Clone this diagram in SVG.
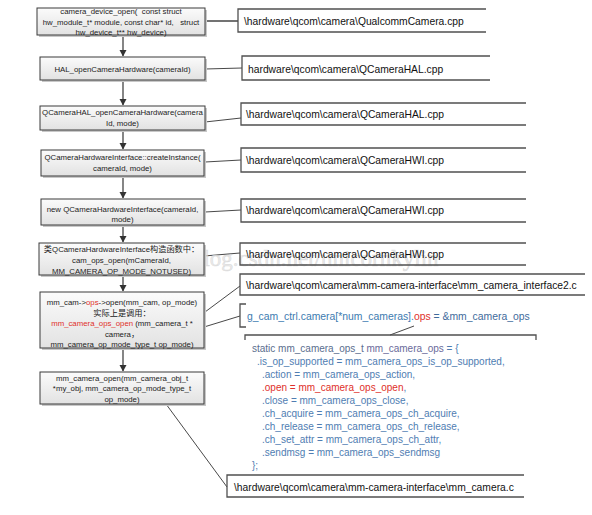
<svg xmlns="http://www.w3.org/2000/svg" width="592" height="515" viewBox="0 0 592 515">
<style>
.bx{fill:url(#g);stroke:#3a3a3a;stroke-width:1}
.sh{fill:#c8c8c8}
.lt{font-family:"Liberation Sans",Arial,"Noto Sans CJK SC",sans-serif;font-size:7.8px;fill:#222;text-anchor:middle;white-space:pre}
.cn{font-family:"Noto Sans CJK SC","Liberation Serif",serif;font-size:8.2px}
.rb{fill:none;stroke:#505050;stroke-width:1.3}
.rt{font-family:"Liberation Sans",Arial,sans-serif;font-size:10.3px;fill:#111}
.st{font-family:"Liberation Sans",Arial,sans-serif;font-size:10px;fill:#4f7db2}
.red{fill:#e0302a}
.cl{fill:none;stroke:#333;stroke-width:0.9}
.ar{fill:none;stroke:#444;stroke-width:1.3}
.wm{font-family:"Liberation Serif",serif;font-size:23px;fill:#e4e4e4;fill-opacity:0.75;stroke:#c8c8c8;stroke-width:0.5;stroke-opacity:0.6}
</style>
<defs>
<linearGradient id="g" x1="0" y1="0" x2="0" y2="1"><stop offset="0" stop-color="#fbfbfb"/><stop offset="1" stop-color="#e2e2e2"/></linearGradient>
<marker id="ah" markerWidth="8" markerHeight="8" refX="6" refY="4" orient="auto" markerUnits="userSpaceOnUse"><path d="M0,0.5 L6.5,4 L0,7.5 Z" fill="#333"/></marker>
</defs>
<rect width="592" height="515" fill="#fff"/>

<g id="connectors">
<line class="ar" x1="123" y1="35" x2="123" y2="56" marker-end="url(#ah)"/>
<line class="ar" x1="123" y1="80" x2="123" y2="105" marker-end="url(#ah)"/>
<line class="ar" x1="123" y1="130" x2="123" y2="149" marker-end="url(#ah)"/>
<line class="ar" x1="123" y1="176" x2="123" y2="198" marker-end="url(#ah)"/>
<line class="ar" x1="123" y1="225" x2="123" y2="242" marker-end="url(#ah)"/>
<line class="ar" x1="123" y1="275" x2="123" y2="291" marker-end="url(#ah)"/>
<line class="ar" x1="123" y1="348" x2="123" y2="371" marker-end="url(#ah)"/>
<line class="ar" x1="205" y1="21" x2="238" y2="21"/>
<line class="cl" x1="205" y1="69" x2="242" y2="68"/>
<line class="cl" x1="205" y1="122" x2="241" y2="118"/>
<line class="cl" x1="205" y1="162" x2="241" y2="160"/>
<line class="cl" x1="205" y1="212" x2="241" y2="210"/>
<line class="cl" x1="204" y1="256" x2="240" y2="253"/>
<line class="cl" x1="205" y1="312" x2="240" y2="286"/>
<line class="cl" x1="204" y1="327" x2="240" y2="316"/>
<line class="cl" x1="414" y1="326" x2="390" y2="335"/>
<line class="cl" x1="166" y1="404" x2="227" y2="487"/>
</g>

<text class="wm" x="137" y="266">http://blog.csdn.net/unicornkylin</text>

<g id="n1">
<rect class="sh" x="39" y="10" width="168" height="27"/>
<rect class="bx" x="37" y="8" width="168" height="27"/>
<text class="lt" x="121" y="14">camera_device_open(  const struct</text>
<text class="lt" x="121" y="24.5">hw_module_t* module, const char* id,   struct</text>
<text class="lt" x="121" y="35">hw_device_t** hw_device)</text>
</g>
<g id="n2">
<rect class="sh" x="42" y="59" width="165" height="23"/>
<rect class="bx" x="40" y="57" width="165" height="23"/>
<text class="lt" x="122.5" y="72">HAL_openCameraHardware(cameraId)</text>
</g>
<g id="n3">
<rect class="sh" x="42" y="108" width="165" height="24"/>
<rect class="bx" x="40" y="106" width="165" height="24"/>
<text class="lt" x="122.5" y="115">QCameraHAL_openCameraHardware(camera</text>
<text class="lt" x="122.5" y="125.5">Id, mode)</text>
</g>
<g id="n4">
<rect class="sh" x="43" y="152" width="163" height="26"/>
<rect class="bx" x="41" y="150" width="163" height="26"/>
<text class="lt" x="122.5" y="160">QCameraHardwareInterface::createInstance(</text>
<text class="lt" x="122.5" y="171">cameraId, mode)</text>
</g>
<g id="n5">
<rect class="sh" x="43" y="201" width="163" height="26"/>
<rect class="bx" x="41" y="199" width="163" height="26"/>
<text class="lt" x="122.5" y="212">new QCameraHardwareInterface(cameraId,</text>
<text class="lt" x="122.5" y="221.5">mode)</text>
</g>
<g id="n6">
<rect class="sh" x="41" y="245" width="165" height="32"/>
<rect class="bx" x="39" y="243" width="165" height="32"/>
<text class="lt" x="121.5" y="251.5"><tspan class="cn">类</tspan>QCameraHardwareInterface<tspan class="cn">构造函数中：</tspan></text>
<text class="lt" x="121.5" y="263">cam_ops_open(mCameraId,</text>
<text class="lt" x="121.5" y="273.5">MM_CAMERA_OP_MODE_NOTUSED)</text>
</g>
<g id="n7">
<rect class="sh" x="42" y="294" width="164" height="56"/>
<rect class="bx" x="40" y="292" width="164" height="56"/>
<text class="lt" x="122" y="305">mm_cam-&gt;<tspan class="red">ops</tspan>-&gt;open(mm_cam, op_mode)</text>
<text class="lt cn" x="122" y="315.5">实际上是调用：</text>
<text class="lt" x="122" y="326"><tspan class="red">mm_camera_ops_open</tspan> (mm_camera_t *</text>
<text class="lt" x="122" y="336.5">camera<tspan class="cn">，</tspan></text>
<text class="lt" x="122" y="347">mm_camera_op_mode_type_t op_mode)</text>
</g>
<g id="n8">
<rect class="sh" x="42" y="374" width="164" height="32"/>
<rect class="bx" x="40" y="372" width="164" height="32"/>
<text class="lt" x="122" y="380.5">mm_camera_open(mm_camera_obj_t</text>
<text class="lt" x="122" y="391">*my_obj, mm_camera_op_mode_type_t</text>
<text class="lt" x="122" y="401.5">op_mode)</text>
</g>

<g id="f1"><path class="rb" d="M486,9 H238 V32 H486"/><text class="rt" x="244" y="24.5">\hardware\qcom\camera\QualcommCamera.cpp</text></g>
<g id="f2"><path class="rb" d="M490,56 H242 V80 H490"/><text class="rt" x="248" y="72.5">hardware\qcom\camera\QCameraHAL.cpp</text></g>
<g id="f3"><path class="rb" d="M526,103 H241 V125 H526"/><text class="rt" x="246" y="117.5">\hardware\qcom\camera\QCameraHAL.cpp</text></g>
<g id="f4"><path class="rb" d="M526,148 H241 V172 H526"/><text class="rt" x="246" y="163.5">\hardware\qcom\camera\QCameraHWI.cpp</text></g>
<g id="f5"><path class="rb" d="M526,199 H241 V222 H526"/><text class="rt" x="246" y="213.5">\hardware\qcom\camera\QCameraHWI.cpp</text></g>
<g id="f6"><path class="rb" d="M526,243 H240 V265 H526"/><text class="rt" x="246" y="257.5">\hardware\qcom\camera\QCameraHWI.cpp</text></g>
<g id="f7"><path class="rb" d="M585,274 H240 V295 H585"/><text class="rt" x="246" y="288.5">\hardware\qcom\camera\mm-camera-interface\mm_camera_interface2.c</text></g>
<g id="ops">
<path class="rb" d="M246,304 H240 V327 H246"/>
<text class="st" x="247" y="319.5" style="font-size:10.4px;fill:#3d7bb0">g_cam_ctrl.camera[*num_cameras].<tspan class="red">ops</tspan><tspan fill="#3f6b9c"> = &amp;mm_camera_ops</tspan></text>
</g>
<g id="struct">
<path class="rb" d="M245,340 V335 H536 V340"/>
<text class="st" x="252" y="351.5"><tspan fill="#5a6e8e">static mm_camera_ops_t</tspan> <tspan fill="#6a6a9a">mm_camera_ops</tspan> = {</text>
<text class="st" x="257" y="364.5">.is_op_supported = mm_camera_ops_is_op_supported,</text>
<text class="st" x="262" y="377.5">.action = mm_camera_ops_action,</text>
<text class="st" x="262" y="390.5"><tspan class="red">.open = mm_camera_ops_open</tspan>,</text>
<text class="st" x="262" y="403.5">.close = mm_camera_ops_close,</text>
<text class="st" x="262" y="416.5">.ch_acquire = mm_camera_ops_ch_acquire,</text>
<text class="st" x="262" y="429.5">.ch_release = mm_camera_ops_ch_release,</text>
<text class="st" x="262" y="442.5">.ch_set_attr = mm_camera_ops_ch_attr,</text>
<text class="st" x="262" y="455.5">.sendmsg = mm_camera_ops_sendmsg</text>
<text class="st" x="252" y="468.5">};</text>
</g>
<g id="f8"><path class="rb" d="M524,475 H227 V497 H524"/><text class="rt" x="234" y="490.5">\hardware\qcom\camera\mm-camera-interface\mm_camera.c</text></g>
</svg>
